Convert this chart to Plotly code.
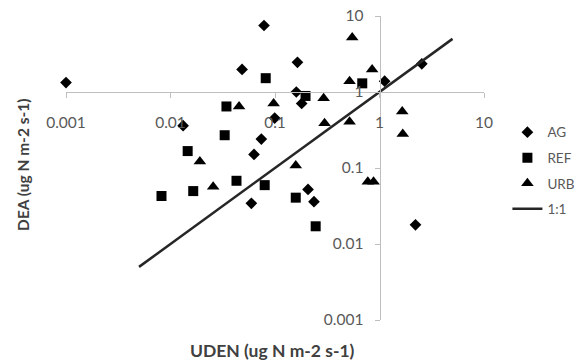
import plotly.graph_objects as go

# Data
ag_x = [0.001, 0.0484, 0.0132, 0.0785, 0.164, 2.54, 1.12, 0.16, 0.18, 0.0993, 0.074, 0.063, 0.0594, 0.207, 0.236, 2.21]
ag_y = [1.33, 1.98, 0.36, 7.5, 2.46, 2.35, 1.39, 1.0, 0.706, 0.454, 0.24, 0.151, 0.0343, 0.0523, 0.0361, 0.0179]

ref_x = [0.0343, 0.033, 0.0815, 0.684, 0.196, 0.0146, 0.0082, 0.0165, 0.0428, 0.0797, 0.158, 0.245]
ref_y = [0.645, 0.27, 1.52, 1.3, 0.887, 0.167, 0.0428, 0.0497, 0.0679, 0.0595, 0.0407, 0.0171]

urb_x = [0.0453, 0.548, 0.85, 0.517, 0.292, 0.097, 0.298, 0.517, 1.65, 1.67, 0.0191, 0.0256, 0.158, 0.773, 0.877]
urb_y = [0.645, 5.2, 1.98, 1.39, 0.83, 0.706, 0.387, 0.406, 0.555, 0.28, 0.122, 0.0567, 0.108, 0.0659, 0.0659]

line_x = [0.005, 5]
line_y = [0.005, 5]

tick_vals = [0.001, 0.01, 0.1, 1, 10]
tick_text = ["0.001", "0.01", "0.1", "1", "10"]

FONT = "Lato"
AXIS_COLOR = "#bfbfbf"
TEXT_COLOR = "#595959"

fig = go.Figure()
fig.add_trace(go.Scatter(x=ag_x, y=ag_y, mode="markers", name="AG", legendgroup="a",
                         marker=dict(symbol="diamond", size=9, color="black"), cliponaxis=False))
fig.add_trace(go.Scatter(x=ref_x, y=ref_y, mode="markers", name="REF", legendgroup="b",
                         marker=dict(symbol="square", size=10, color="black"), cliponaxis=False))
fig.add_trace(go.Scatter(x=urb_x, y=urb_y, mode="markers", name="URB", legendgroup="c",
                         marker=dict(symbol="triangle-up", size=11, color="black"), cliponaxis=False))
fig.add_trace(go.Scatter(x=line_x, y=line_y, mode="lines", name="1:1", legendgroup="d",
                         line=dict(color="#262626", width=2.5)))

rng = [-3, 1]
cross = (0 - rng[0]) / (rng[1] - rng[0])

axis_common = dict(
    type="log", range=rng, tickvals=tick_vals, ticktext=tick_text,
    showgrid=False, zeroline=False, showline=True, linecolor=AXIS_COLOR, linewidth=1,
    ticks="outside", ticklen=5, tickcolor=AXIS_COLOR, tickwidth=1,
    tickfont=dict(family=FONT, size=15.5, color=TEXT_COLOR),
    anchor="free", position=cross, automargin=False, ticklabeloverflow="allow",
)

fig.update_layout(
    width=575, height=355,
    margin=dict(l=58, r=98.5, t=8, b=43, autoexpand=False),
    paper_bgcolor="white", plot_bgcolor="white",
    xaxis=dict(**axis_common, ticklabelstandoff=11),
    yaxis=dict(**axis_common, ticklabelstandoff=8),
    legend=dict(x=1.056, y=0.668, xanchor="left", yanchor="top",
                font=dict(family=FONT, size=13.5, color=TEXT_COLOR),
                tracegroupgap=5, bgcolor="rgba(0,0,0,0)"),
    annotations=[
        dict(text="<b>UDEN (ug N m-2 s-1)</b>", xref="paper", yref="paper", x=0.495, y=-0.099,
             xanchor="center", yanchor="middle", showarrow=False,
             font=dict(family=FONT, size=17.5, color="#404040")),
        dict(text="<b>DEA (ug N m-2 s-1)</b>", xref="paper", yref="paper", x=-0.103, y=0.51,
             xanchor="center", yanchor="middle", showarrow=False, textangle=-90,
             font=dict(family=FONT, size=15.5, color="#404040")),
    ],
)

fig.write_html("out.html")
